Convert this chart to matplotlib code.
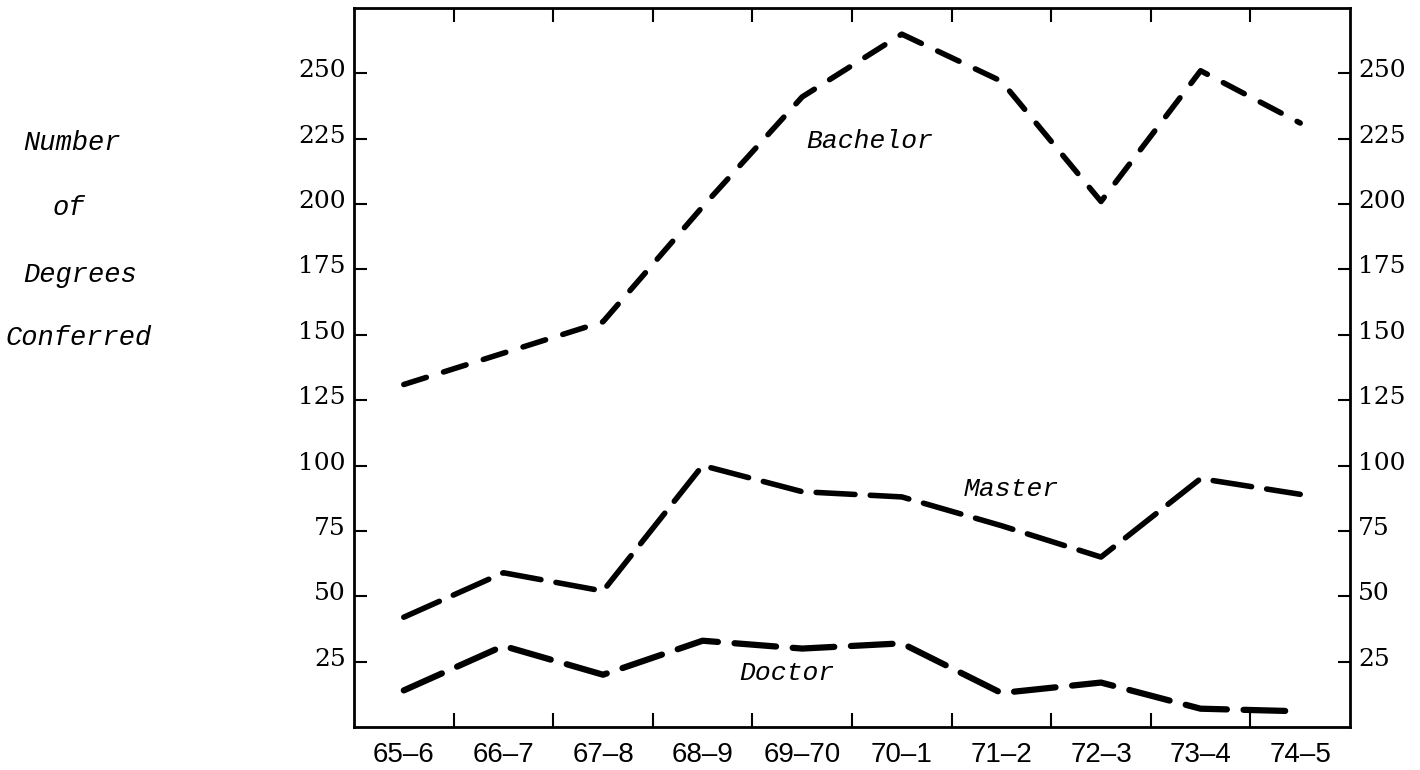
import matplotlib
matplotlib.use("Agg")
import matplotlib.pyplot as plt
from matplotlib import font_manager
from matplotlib.transforms import ScaledTranslation

# ---------------- data ----------------
years = ["65–6", "66–7", "67–8", "68–9", "69–70", "70–1", "71–2", "72–3", "73–4", "74–5"]
bachelor = [131, 143, 155, 199, 241, 265, 247, 201, 251, 231]
master = [42, 59, 52, 100, 90, 88, 77, 65, 95, 89]
doctor = [14, 31, 20, 33, 30, 32, 13, 17, 7, 6]
y_ticks = [25, 50, 75, 100, 125, 150, 175, 200, 225, 250]
side_words = ["Number", "of", "Degrees", "Conferred"]

available = {f.name for f in font_manager.fontManager.ttflist}
narrow = "Liberation Sans Narrow" if "Liberation Sans Narrow" in available else "Liberation Sans"
mono = "Liberation Mono" if "Liberation Mono" in available else "DejaVu Sans Mono"

plt.rcParams["lines.scale_dashes"] = False

fig = plt.figure(figsize=(14.2, 7.7), dpi=100)
ax = fig.add_axes([354 / 1420, 43 / 770, (1350 - 354) / 1420, (727 - 8) / 770])

x = list(range(len(years)))
ax.plot(x, bachelor, color="black", lw=4, dashes=(17, 13), dash_capstyle="round")
ax.plot(x, master, color="black", lw=4, dashes=(28, 11), dash_capstyle="round")
ax.plot(x, doctor, color="black", lw=4.5, dashes=(30, 12), dash_capstyle="round")

ax.set_xlim(-0.5, 9.5)
ax.set_ylim(0, 275)

# ticks between categories, labels at the categories
ax.set_xticks([i + 0.5 for i in range(len(years) - 1)])
ax.set_xticklabels([])
ax.set_xticks(x, minor=True)
ax.set_xticklabels(years, minor=True, fontsize=20, family=narrow)
ax.tick_params(axis="x", which="minor", length=0, pad=11)
ax.tick_params(axis="x", which="major", direction="in", length=10, width=1.5,
               top=True, bottom=True)

ax.set_yticks(y_ticks)
ax.set_yticklabels([str(v) for v in y_ticks], fontsize=18, family="DejaVu Serif")
ax.tick_params(axis="y", direction="in", length=9, width=1.5, left=True, right=True,
               labelleft=True, labelright=True, pad=6)
off = ScaledTranslation(0, 5 / 100, fig.dpi_scale_trans)
for t in ax.yaxis.get_major_ticks():
    t.label1.set_transform(t.label1.get_transform() + off)
    t.label2.set_transform(t.label2.get_transform() + off)

for s in ax.spines.values():
    s.set_linewidth(2)

# in-plot labels
ax.text(4.68, 224, "Bachelor", fontsize=19, style="italic", family=mono,
        ha="center", va="center")
ax.text(6.10, 91, "Master", fontsize=19, style="italic", family=mono,
        ha="center", va="center")
ax.text(3.85, 20.5, "Doctor", fontsize=19, style="italic", family=mono,
        ha="center", va="center")

# side label words
word_pos = [(23, 143), (53, 208), (23, 275), (5, 338)]
for w, (px, py) in zip(side_words, word_pos):
    fig.text(px / 1420, 1 - py / 770, w, fontsize=19.5, style="italic", family=mono,
             ha="left", va="center")

fig.savefig("out.png", dpi=100, facecolor="white")
